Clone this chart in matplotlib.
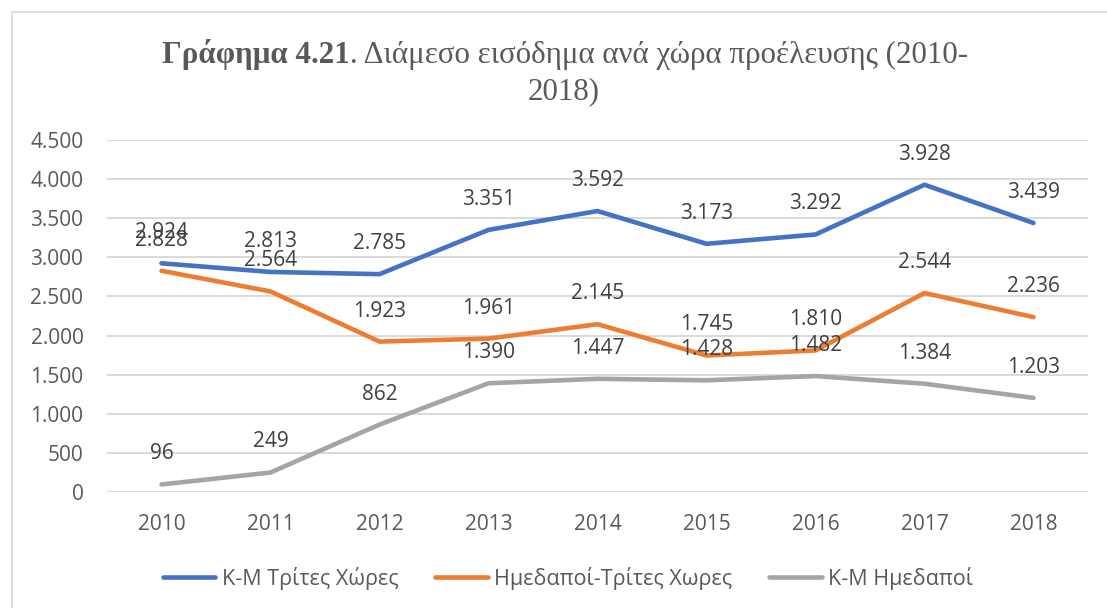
import numpy as np
import matplotlib
matplotlib.use("Agg")
import matplotlib.pyplot as plt
from matplotlib.lines import Line2D
from matplotlib.ticker import FuncFormatter

# data
years = ["2010", "2011", "2012", "2013", "2014", "2015", "2016", "2017", "2018"]
km_trites = [2924, 2813, 2785, 3351, 3592, 3173, 3292, 3928, 3439]
hmedapoi_trites = [2828, 2564, 1923, 1961, 2145, 1745, 1810, 2544, 2236]
km_hmedapoi = [96, 249, 862, 1390, 1447, 1428, 1482, 1384, 1203]

series = [
    ("Κ-Μ Τρίτες Χώρες", km_trites, "#4472C4"),
    ("Ημεδαποί-Τρίτες Χωρες", hmedapoi_trites, "#ED7D31"),
    ("Κ-Μ Ημεδαποί", km_hmedapoi, "#A5A5A5"),
]

W, H = 1107, 608
fig = plt.figure(figsize=(W / 100, H / 100), dpi=100)
ax = fig.add_axes([107 / W, 1 - 492 / H, (1088 - 107) / W, (492 - 140) / H])

def fmt(v):
    return f"{int(v):,}".replace(",", ".")

x = np.arange(len(years))
for name, vals, col in series:
    ax.plot(x, vals, color=col, lw=3.3, label=name, solid_capstyle="round")
    for xi, v in zip(x, vals):
        ax.annotate(fmt(v), (xi, v), xytext=(0, 22), textcoords="offset points",
                    ha="center", va="center", fontsize=15, color="#404040",
                    family="Open Sans")

ax.set_xlim(-0.5, len(years) - 0.5)
ax.set_ylim(0, 4500)
ax.set_yticks(np.arange(0, 4501, 500))
ax.yaxis.set_major_formatter(FuncFormatter(lambda v, p: fmt(v)))
ax.set_xticks(x)
ax.set_xticklabels(years)
ax.grid(axis="y", color="#D9D9D9", lw=1.4)
ax.set_axisbelow(True)
for s in ax.spines.values():
    s.set_visible(False)
ax.tick_params(length=0, labelsize=15, labelcolor="#595959")
ax.tick_params(axis="y", pad=17)
ax.tick_params(axis="x", pad=16)
for lab in ax.get_xticklabels() + ax.get_yticklabels():
    lab.set_family("Open Sans")

# legend
leg = fig.legend(loc="center", bbox_to_anchor=(568 / W, 1 - 578 / H), ncol=3,
                 frameon=False, handlelength=2.45, handletextpad=0.3,
                 columnspacing=1.7, prop={"family": "Open Sans", "size": 15.5})
for t in leg.get_texts():
    t.set_color("#595959")

# title, bold part + regular part
tc = "#595959"
tsize = 22.3
t1 = fig.text(0, 1 - 63 / H, "Γράφημα 4.21", fontsize=tsize, fontweight="bold",
              family="Liberation Serif", color=tc, va="baseline")
t2 = fig.text(0, 1 - 63 / H, ". Διάμεσο εισόδημα ανά χώρα προέλευσης (2010-",
              fontsize=tsize, family="Liberation Serif", color=tc, va="baseline")
fig.text(564 / W, 1 - 99 / H, "2018)", fontsize=tsize, family="Liberation Serif",
         color=tc, va="baseline", ha="center")
r = fig.canvas.get_renderer()
w1 = t1.get_window_extent(r).width
w2 = t2.get_window_extent(r).width
x0 = 565 - (w1 + w2) / 2
t1.set_x(x0 / W)
t2.set_x((x0 + w1) / W)

# chart frame (top and left edges visible)
fig.add_artist(Line2D([12 / W, 12 / W], [0, 1 - 12 / H], transform=fig.transFigure,
                      color="#D9D9D9", lw=1.2))
fig.add_artist(Line2D([12 / W, 1], [1 - 12 / H, 1 - 12 / H], transform=fig.transFigure,
                      color="#D9D9D9", lw=1.2))

fig.savefig("out.png", dpi=100)
